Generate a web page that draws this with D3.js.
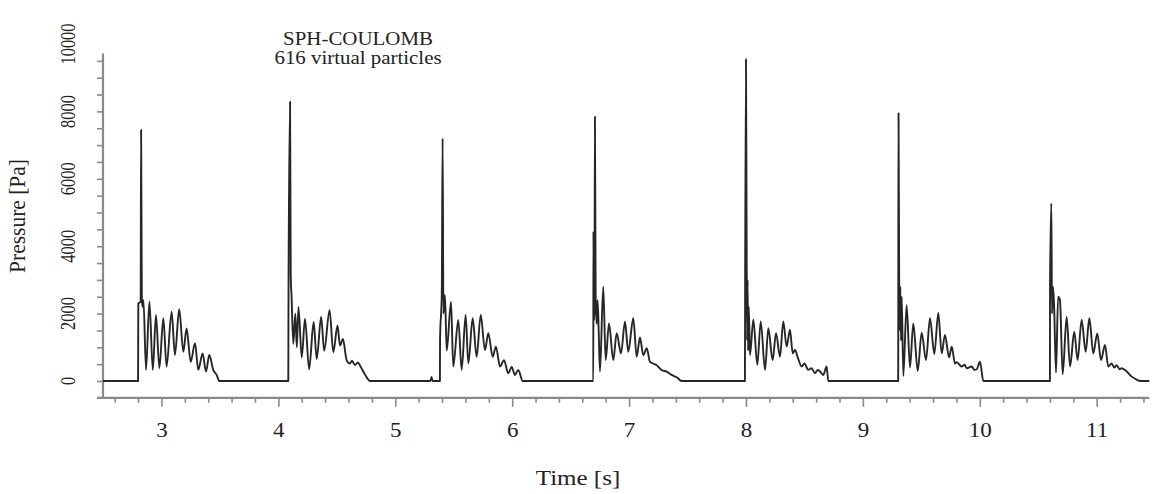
<!DOCTYPE html>
<html><head><meta charset="utf-8">
<script src="https://cdn.jsdelivr.net/npm/d3@7"></script>
<style>html,body{margin:0;padding:0;background:#fff;}svg{display:block;}</style>
</head><body>
<svg id="chart" width="1155" height="494"></svg>
<script>
// ---- data (time [s], pressure [Pa]) ----
const pulse1 = [[2.500,0],[2.800,0],[2.802,2300],[2.822,2350],[2.826,7450],[2.832,2500],[2.838,2200],[2.846,2400],[2.868,330],[2.897,2350],[2.926,330],[2.953,1960],[2.982,380],[3.016,1860],[3.044,430],[3.087,2060],[3.115,770],[3.152,2130],[3.187,870],[3.215,1560],[3.250,570],[3.287,1120],[3.315,330],[3.352,820],[3.381,280],[3.409,770],[3.443,330],[3.472,180],[3.495,0]];
const pulse2 = [[4.085,0],[4.087,2800],[4.100,8290],[4.106,3100],[4.113,2500],[4.128,1100],[4.145,2000],[4.158,1000],[4.172,2200],[4.200,700],[4.228,1850],[4.263,350],[4.302,1750],[4.328,650],[4.366,1900],[4.392,900],[4.438,2100],[4.470,850],[4.506,1650],[4.527,1050],[4.552,1250],[4.584,620],[4.612,520],[4.630,600],[4.655,470],[4.680,550],[4.704,420],[4.740,200],[4.785,0]];
const pulse3 = [[5.300,0],[5.311,120],[5.318,0],[5.382,0],[5.383,1200],[5.398,2600],[5.405,7200],[5.412,2000],[5.425,2550],[5.440,900],[5.477,2350],[5.496,430],[5.539,1810],[5.568,330],[5.602,1960],[5.625,520],[5.662,1860],[5.696,720],[5.731,1960],[5.767,920],[5.796,1420],[5.833,720],[5.861,1020],[5.896,430],[5.930,620],[5.967,230],[5.996,420],[6.024,180],[6.052,330],[6.090,0]];
const pulse4 = [[6.694,0],[6.695,4430],[6.700,1800],[6.704,2200],[6.708,7840],[6.714,2600],[6.722,1700],[6.731,2400],[6.740,1500],[6.751,280],[6.779,2800],[6.800,620],[6.828,1710],[6.865,620],[6.894,1420],[6.931,820],[6.965,1760],[6.993,870],[7.036,1860],[7.065,720],[7.093,1290],[7.122,770],[7.151,970],[7.179,570],[7.205,520],[7.236,470],[7.280,320],[7.322,280],[7.365,180],[7.407,110],[7.450,0]];
const pulse5 = [[7.991,0],[7.993,3000],[8.000,9550],[8.006,3600],[8.010,1200],[8.014,3000],[8.018,900],[8.024,2200],[8.034,770],[8.063,1820],[8.097,480],[8.126,1770],[8.163,330],[8.191,1570],[8.228,620],[8.257,1420],[8.291,720],[8.319,1770],[8.348,1020],[8.376,1520],[8.400,820],[8.419,920],[8.445,680],[8.476,430],[8.500,520],[8.533,330],[8.560,380],[8.590,230],[8.615,330],[8.633,280],[8.661,180],[8.690,430],[8.704,0]];
const pulse6 = [[9.302,0],[9.303,2800],[9.305,7950],[9.310,3300],[9.316,1500],[9.320,2800],[9.326,1200],[9.332,2500],[9.346,150],[9.374,2250],[9.403,400],[9.431,1710],[9.469,300],[9.503,1430],[9.540,620],[9.574,1860],[9.611,800],[9.645,2020],[9.674,820],[9.702,1370],[9.737,700],[9.760,1020],[9.788,520],[9.802,560],[9.845,430],[9.870,480],[9.888,380],[9.931,430],[9.955,330],[9.974,350],[10.002,570],[10.030,0]];
const pulse7 = [[10.600,0],[10.601,2900],[10.612,5270],[10.618,2000],[10.626,2800],[10.635,2300],[10.652,250],[10.670,2500],[10.686,2400],[10.709,200],[10.743,1900],[10.772,430],[10.808,1460],[10.837,620],[10.871,1810],[10.906,870],[10.937,1860],[10.971,820],[11.005,1410],[11.037,620],[11.071,1070],[11.099,430],[11.128,520],[11.150,400],[11.171,470],[11.195,350],[11.214,380],[11.257,280],[11.300,130],[11.342,40],[11.371,0],[11.450,0]];

const xMajorTicks = [3,4,5,6,7,8,9,10,11];
const xMinorTicks = [2.6,2.8,3.2,3.4,3.6,3.8,4.2,4.4,4.6,4.8,5.2,5.4,5.6,5.8,6.2,6.4,6.6,6.8,7.2,7.4,7.6,7.8,8.2,8.4,8.6,8.8,9.2,9.4,9.6,9.8,10.2,10.4,10.6,10.8,11.2,11.4];
const yLabelTicks = [0,2000,4000,6000,8000,10000];
const yMinorTicks = [0,500,1000,1500,2000,2500,3000,3500,4000,4500,5000,5500,6000,6500,7000,7500,8000,8500,9000,9500];
const titleLines = ["SPH-COULOMB","616 virtual particles"];
const xTitle = "Time [s]";
const yTitle = "Pressure [Pa]";

// ---- drawing ----
const svg = d3.select("#chart");
const x = d3.scaleLinear().domain([2.5, 11.45]).range([103, 1149.3]);
const y = d3.scaleLinear().domain([0, 10000]).range([381, 44]);
const axisColor = "#8a8a8a";
const font = "'Liberation Serif','Times New Roman',serif";
const axisY = y(-500);

// x axis: minor + major ticks
const gx = svg.append("g").attr("transform", `translate(0,${axisY})`);
gx.call(d3.axisBottom(x).tickValues(xMinorTicks).tickSize(5).tickFormat(""));
const gx2 = svg.append("g").attr("transform", `translate(0,${axisY})`);
gx2.call(d3.axisBottom(x).tickValues(xMajorTicks).tickSize(9).tickPadding(16).tickFormat(d3.format("d")));
[gx, gx2].forEach(g => {
  g.select(".domain").remove();
  g.selectAll(".tick line").attr("stroke", axisColor).attr("stroke-width", 1.6);
});
gx2.selectAll(".tick text").attr("fill", "#222").style("font-family", font).style("font-size", "20px")
  .attr("transform", "scale(1.15,1)").attr("x", function(){ return 0; });
// keep labels centred on their tick while stretched
gx2.selectAll(".tick").each(function(d){
  d3.select(this).select("text").attr("transform", "scale(1.15,1)");
});
svg.append("line").attr("x1", x(2.5) - 6).attr("x2", x(11.45)).attr("y1", axisY).attr("y2", axisY)
  .attr("stroke", axisColor).attr("stroke-width", 2.2);

// y axis
const gy = svg.append("g").attr("transform", `translate(${x(2.5)},0)`);
gy.call(d3.axisLeft(y).tickValues(yMinorTicks).tickSize(6).tickFormat(""));
gy.select(".domain").remove();
gy.selectAll(".tick line").attr("stroke", axisColor).attr("stroke-width", 1.6);
svg.append("line").attr("x1", x(2.5)).attr("x2", x(2.5)).attr("y1", axisY).attr("y2", y(9720))
  .attr("stroke", axisColor).attr("stroke-width", 2.2);
svg.append("g").selectAll("text").data(yLabelTicks).join("text")
  .attr("transform", d => `translate(75,${y(d)}) scale(1.3,1) rotate(-90)`)
  .attr("text-anchor", "middle")
  .attr("fill", "#222").style("font-family", font).style("font-size", "16.5px")
  .text(d => d);

// data line
const line = d3.line().x(d => x(d[0])).y(d => y(d[1])).curve(d3.curveMonotoneX);
const series = [].concat(pulse1, pulse2, pulse3, pulse4, pulse5, pulse6, pulse7);
svg.append("path").datum(series).attr("d", line)
  .attr("fill", "none").attr("stroke", "#262626").attr("stroke-width", 1.9).attr("stroke-linejoin", "round");

// titles
svg.append("g").selectAll("text").data(titleLines).join("text")
  .attr("transform", (d, i) => `translate(358,${45 + i * 19}) scale(1.1,1)`)
  .attr("text-anchor", "middle").attr("fill", "#222")
  .style("font-family", font).style("font-size", "19px").text(d => d);
svg.append("text").attr("transform", "translate(578,485) scale(1.25,1)")
  .attr("text-anchor", "middle").attr("fill", "#222")
  .style("font-family", font).style("font-size", "20px").text(xTitle);
svg.append("text").attr("transform", "translate(25,216) scale(1.05,1) rotate(-90)")
  .attr("text-anchor", "middle").attr("fill", "#222")
  .style("font-family", font).style("font-size", "21.5px").text(yTitle);
</script>
</body></html>
